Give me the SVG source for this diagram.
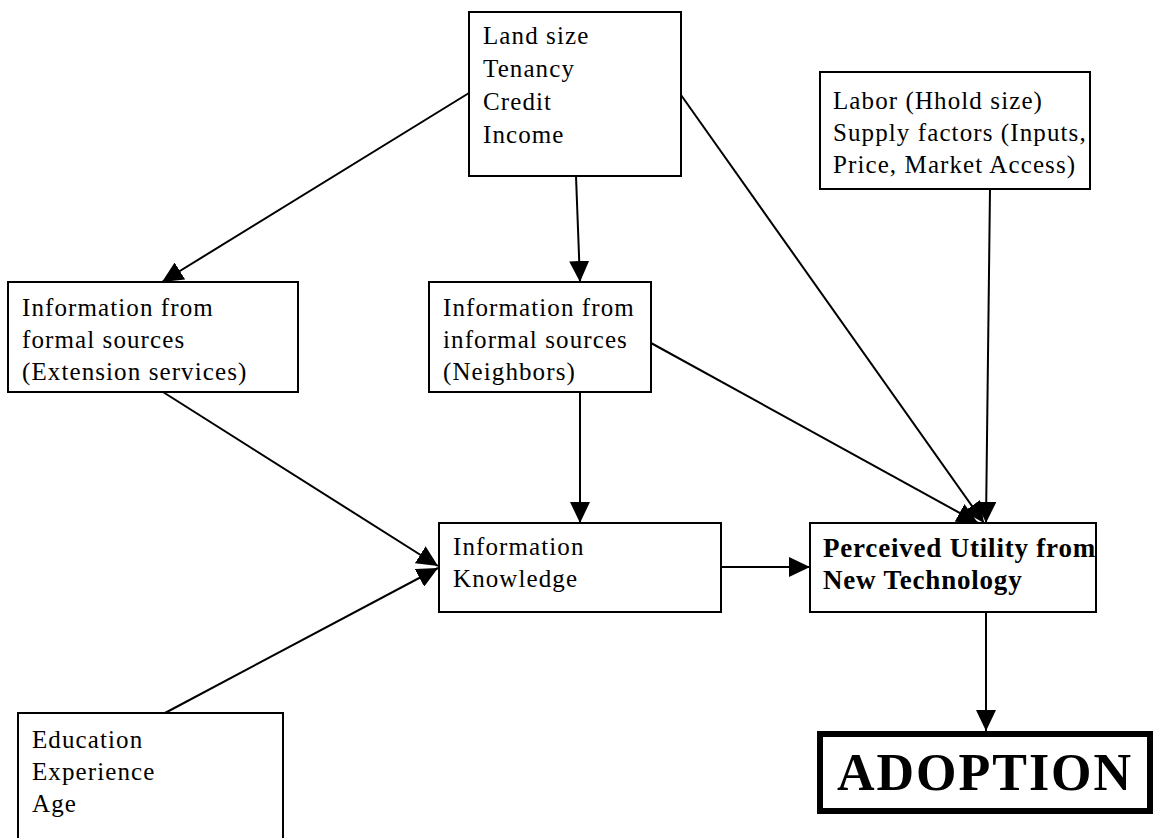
<svg xmlns="http://www.w3.org/2000/svg" width="1158" height="838" viewBox="0 0 1158 838">
<style>
.box{fill:#fff;stroke:#000;stroke-width:2}
.t{font-family:"Liberation Serif","Times New Roman",serif;font-size:25px;letter-spacing:1.1px;fill:#000}
.b{font-family:"Liberation Serif","Times New Roman",serif;font-size:27px;font-weight:bold;letter-spacing:0.8px;fill:#000}
.c{stroke:#000;stroke-width:2;fill:none;marker-end:url(#ah)}
</style>
<defs>
<marker id="ah" markerUnits="userSpaceOnUse" markerWidth="22" markerHeight="20" refX="21" refY="10" orient="auto" viewBox="0 0 22 20">
<path d="M0,0 L21,10 L0,20 Z" fill="#000"/>
</marker>
</defs>
<rect width="1158" height="838" fill="#fff"/>
<g id="connectors">
<line class="c" x1="469" y1="93" x2="162" y2="282"/>
<line class="c" x1="576" y1="176" x2="580" y2="282"/>
<line class="c" x1="681" y1="95" x2="984" y2="523"/>
<line class="c" x1="651" y1="343" x2="978" y2="523"/>
<line class="c" x1="990" y1="189" x2="986" y2="523"/>
<line class="c" x1="163" y1="392" x2="438" y2="566"/>
<line class="c" x1="165" y1="713" x2="438" y2="568"/>
<line class="c" x1="580" y1="392" x2="580" y2="523"/>
<line class="c" x1="721" y1="567" x2="810" y2="567"/>
<line class="c" x1="986" y1="612" x2="986" y2="731"/>
</g>
<g id="node-land">
<rect class="box" x="469" y="12" width="212" height="164"/>
<text class="t" x="483" y="44">Land size</text>
<text class="t" x="483" y="77">Tenancy</text>
<text class="t" x="483" y="110">Credit</text>
<text class="t" x="483" y="143">Income</text>
</g>
<g id="node-labor">
<rect class="box" x="820" y="72" width="270" height="117"/>
<text class="t" x="833" y="109">Labor (Hhold size)</text>
<text class="t" x="833" y="141">Supply factors (Inputs,</text>
<text class="t" x="833" y="173">Price, Market Access)</text>
</g>
<g id="node-formal">
<rect class="box" x="8" y="282" width="290" height="110"/>
<text class="t" x="22" y="316">Information from</text>
<text class="t" x="22" y="348">formal sources</text>
<text class="t" x="22" y="380">(Extension services)</text>
</g>
<g id="node-informal">
<rect class="box" x="429" y="282" width="222" height="110"/>
<text class="t" x="443" y="316">Information from</text>
<text class="t" x="443" y="348">informal sources</text>
<text class="t" x="443" y="380">(Neighbors)</text>
</g>
<g id="node-knowledge">
<rect class="box" x="439" y="523" width="282" height="89"/>
<text class="t" x="453" y="555">Information</text>
<text class="t" x="453" y="587">Knowledge</text>
</g>
<g id="node-utility">
<rect class="box" x="810" y="523" width="286" height="89"/>
<text class="b" x="823" y="557">Perceived Utility from</text>
<text class="b" x="823" y="589">New Technology</text>
</g>
<g id="node-adoption">
<rect x="820" y="734" width="330" height="77" fill="#fff" stroke="#000" stroke-width="6"/>
<text x="985" y="790" text-anchor="middle" font-family="'Liberation Serif','Times New Roman',serif" font-size="52" font-weight="bold" letter-spacing="2">ADOPTION</text>
</g>
<g id="node-education">
<rect class="box" x="18" y="713" width="265" height="140"/>
<text class="t" x="32" y="748">Education</text>
<text class="t" x="32" y="780">Experience</text>
<text class="t" x="32" y="812">Age</text>
</g>
</svg>
